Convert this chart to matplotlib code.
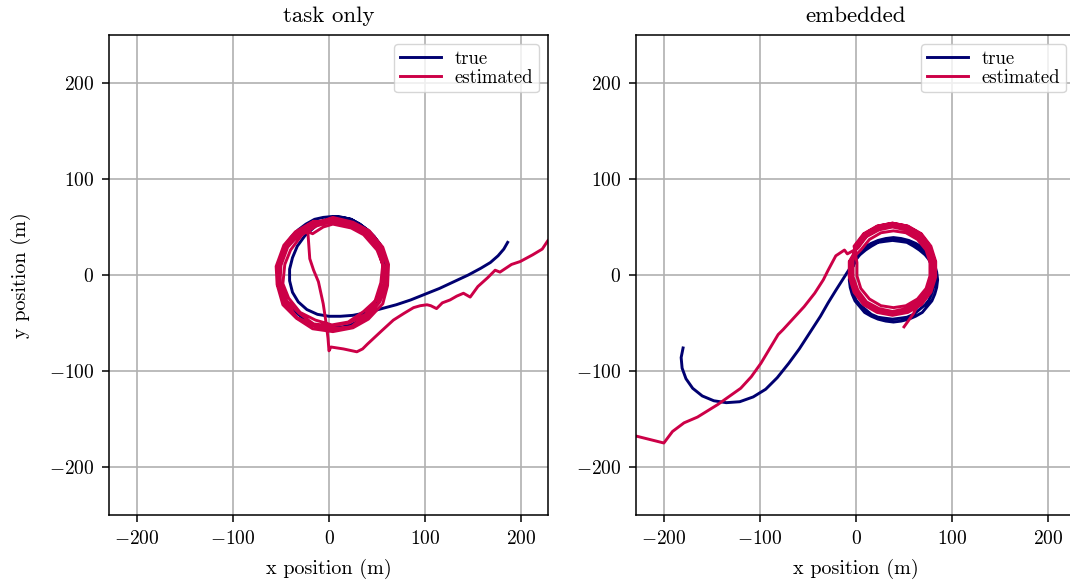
import numpy as np
import matplotlib
matplotlib.use("Agg")
import matplotlib.pyplot as plt

plt.rcParams['font.family'] = 'serif'
plt.rcParams['font.serif'] = ['cmr10']
plt.rcParams['mathtext.fontset'] = 'cm'
plt.rcParams['axes.formatter.use_mathtext'] = True

# task only: true path (tail from the right, then clockwise loops)
task_true_x = [186, 182, 176, 168, 158, 145, 130, 115, 100, 85, 70, 55, 40, 25, 12, 0, -12, -23, -32, -38, -41, -41,
               -38, -33, -25, -14, -2, 7,
               14, 23, 32, 40, 47, 53, 57, 59, 60, 59, 57, 53, 47, 40, 32, 23, 14, 4,
               -6, -15, -24, -32, -39, -45, -49, -51, -52, -51, -49, -45, -39, -32, -24, -15, -6, 4,
               14, 23, 32, 40, 47, 53, 57, 59, 60, 59, 57, 53, 47]
task_true_y = [34, 27, 20, 13, 7, 0, -7, -14, -20, -26, -31, -35, -39, -42, -43, -43, -41, -36, -28, -18, -6, 6,
               18, 30, 41, 51, 58, 61,
               60, 58, 53, 47, 40, 32, 23, 13, 3, -7, -17, -26, -34, -41, -47, -52, -54, -55,
               -54, -52, -47, -41, -34, -26, -17, -7, 3, 13, 23, 32, 40, 47, 53, 58, 60, 61,
               60, 58, 53, 47, 40, 32, 23, 13, 3, -7, -17, -26, -34]

# task only: estimated path
task_est_x = [235, 228, 222, 212, 199, 190, 178, 173, 165, 155, 147, 140, 133, 126, 118, 112, 106, 102, 95, 88,
              78, 67, 55, 40, 35, 29, 15, 2, 0, -1, -3, -6, -11, -16, -20, -22, -17, -6, 4,
              23, 36, 50, 56, 54, 48, 36, 20, 3, -14, -30, -42, -48, -46, -40, -28, -13,
              3, 21, 40, 52, 57, 59, 51, 38, 23, 2, -16, -34, -45, -53, -51, -46, -32, -16,
              4, 25, 42, 56, 62, 61, 56, 41, 25, 4, -17, -34, -48, -54, -55, -47, -35, -16,
              3, 22, 38, 51, 56, 57, 49, 38, 21, 3, -16, -31, -44, -51, -50, -43, -32, -15,
              4, 24, 41, 54, 60, 59, 53, 40, 24, 5, -16, -33, -46, -52, -53, -45, -33, -17, 4]
task_est_y = [42, 36, 27, 21, 14, 11, 3, 5, -3, -12, -23, -19, -22, -26, -29, -35, -32, -31, -32, -34,
              -40, -47, -58, -72, -77, -80, -77, -75, -79, -66, -50, -30, -7, 5, 17, 45, 43, 50, 53,
              49, 42, 26, 11, -8, -27, -38, -49, -52, -47, -39, -24, -9, 11, 26, 42, 51,
              56, 54, 42, 29, 9, -10, -29, -42, -54, -56, -52, -44, -27, -11, 11, 28, 44, 53,
              60, 55, 46, 29, 11, -11, -30, -46, -55, -59, -56, -45, -31, -10, 9, 31, 45, 56,
              55, 51, 43, 27, 10, -9, -26, -41, -50, -53, -51, -40, -27, -8, 10, 29, 41, 52,
              57, 53, 45, 29, 11, -10, -28, -44, -54, -57, -53, -45, -29, -11, 10, 29, 44, 55, 58]

# embedded: true path (approach from lower left, then clockwise loops)
emb_true_x = [-180, -182, -181, -177, -170, -160, -148, -135, -121, -107, -94, -82, -70, -59, -48, -37, -29, -21, -14, -7,
              -3, 0, 4, 10, 16, 23, 30, 38, 46, 53, 60, 66, 72, 76, 79, 81, 82, 81, 79, 76, 72, 66, 60, 53,
              46, 38, 30, 23, 16, 10, 4, 0, -3, -5, -6, -5,
              -4, -1, 4, 9, 16, 23, 31, 39, 47, 55, 62, 69, 74, 79, 82, 84, 85, 84, 82, 79, 74, 69, 62, 55,
              47, 39, 31, 23, 16, 9, 4, -1, -4, -6, -7, -6,
              -3, 0, 4, 10, 16, 24, 31, 39, 47, 54, 62, 68, 73, 78, 81, 83, 84, 83]
emb_true_y = [-76, -86, -97, -108, -118, -126, -131, -133, -132, -127, -119, -107, -92, -77, -60, -43, -29, -16, -5, 6,
              9, 16, 21, 26, 30, 34, 35, 36, 35, 34, 30, 26, 21, 16, 9, 2, -5, -12, -19, -26, -31, -36, -41, -44,
              -45, -46, -45, -44, -41, -36, -31, -26, -19, -12, -5, 2,
              10, 17, 23, 29, 33, 36, 38, 39, 38, 36, 33, 29, 23, 17, 10, 3, -5, -13, -20, -27, -33, -39, -43, -46,
              -48, -49, -48, -46, -43, -39, -33, -27, -20, -13, -5, 3,
              10, 17, 23, 28, 32, 35, 37, 38, 37, 35, 32, 28, 23, 17, 10, 2, -5, -12]

# embedded: estimated path
emb_est_x = [-240, -224, -200, -191, -179, -165, -144, -120, -109, -99, -90, -81, -76, -65, -54, -43, -34, -29, -21, -12, -9,
             2, 11, 24, 38, 52, 65, 74, 79, 79, 74, 65, 52, 38, 24, 11, 2, -3, -3,
             -1, 9, 23, 38, 53, 67, 77, 82, 82, 77, 67, 53, 38, 23, 9, -1, -6, -6,
             5, 14, 26, 39, 52, 64, 73, 77, 77, 73, 64, 52, 39, 26, 14, 5, 1, 1,
             -2, 8, 22, 38, 54, 68, 78, 83, 83, 78, 68, 54, 38, 22, 8, -2, -7, -7,
             1, 10, 23, 38, 53, 66, 75, 80, 80, 75, 66, 60, 50]
emb_est_y = [-165, -169, -175, -163, -154, -148, -135, -118, -106, -92, -77, -62, -57, -45, -33, -19, -5, 5, 20, 26, 22,
             28, 40, 47, 50, 47, 40, 28, 14, -2, -16, -28, -35, -38, -35, -28, -16, -2, 14,
             30, 43, 51, 54, 51, 43, 30, 15, -1, -16, -29, -37, -40, -37, -29, -16, -1, 15,
             26, 37, 44, 46, 44, 37, 26, 13, -1, -14, -25, -32, -34, -32, -25, -14, -1, 13,
             30, 43, 51, 54, 51, 43, 30, 14, -2, -18, -31, -39, -42, -39, -31, -18, -2, 14,
             28, 40, 48, 51, 48, 40, 28, 14, -2, -16, -28, -40, -54]

true_color = '#000070'
est_color = '#cc0047'

fig = plt.figure(figsize=(10.7, 5.85), dpi=100)
ax1 = fig.add_axes([109 / 1070, 70 / 585, 439 / 1070, 480 / 585])
ax2 = fig.add_axes([636 / 1070, 70 / 585, 439 / 1070, 480 / 585])

panels = [
    (ax1, 'task only', task_true_x, task_true_y, task_est_x, task_est_y),
    (ax2, 'embedded', emb_true_x, emb_true_y, emb_est_x, emb_est_y),
]

for ax, title, tx, ty, ex, ey in panels:
    ax.plot(tx, ty, color=true_color, lw=2.1, label='true')
    ax.plot(ex, ey, color=est_color, lw=2.1, label='estimated')
    ax.set_xlim(-229, 228)
    ax.set_ylim(-250, 250)
    ax.set_xticks([-200, -100, 0, 100, 200])
    ax.set_yticks([-200, -100, 0, 100, 200])
    ax.grid(True, color='#b0b0b0', lw=1.2)
    ax.set_axisbelow(True)
    ax.tick_params(labelsize=14, width=1.1, length=5, pad=5.5)
    for s in ax.spines.values():
        s.set_linewidth(1.1)
    ax.set_title(title, fontsize=16.5, pad=9)
    ax.set_xlabel('x position (m)', fontsize=14.5, labelpad=8)
    ax.legend(loc='upper right', fontsize=13.5, handlelength=2.2,
              labelspacing=0.05, borderpad=0.3, handletextpad=0.7)

ax1.set_ylabel('y position (m)', fontsize=14.5, labelpad=13)

fig.savefig('out.png', dpi=100)
